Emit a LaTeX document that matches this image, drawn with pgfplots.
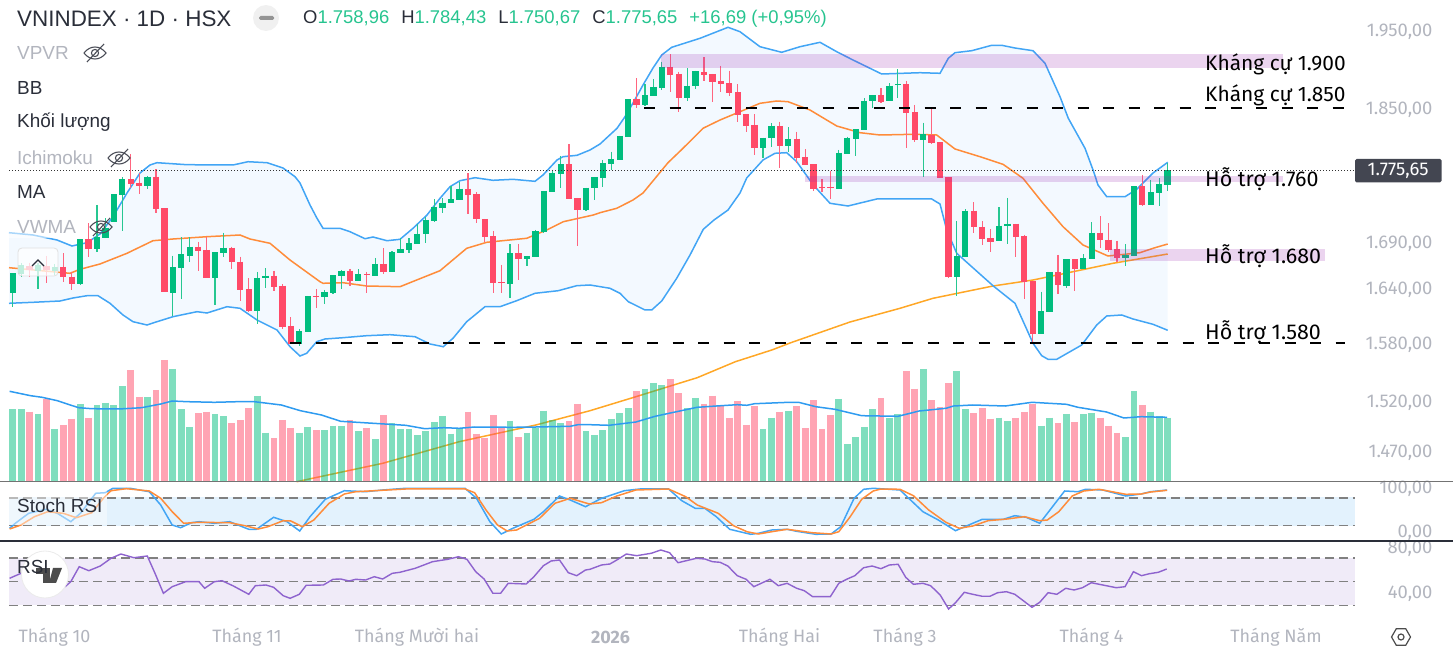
\documentclass[border=0pt]{standalone}
\usepackage{fontspec}
\setmainfont{Liberation Sans}
\newfontfamily\uifont{Fira Sans}
\usepackage{pgfplots}
\usepackage{pgfplotstable}
\usepgfplotslibrary{fillbetween}
\pgfplotsset{compat=1.18}
\definecolor{candgreen}{HTML}{00BD7E}
\definecolor{candred}{HTML}{FF4A68}
\definecolor{bandblue}{HTML}{42A5F5}
\definecolor{bandfill}{HTML}{F3F9FF}
\definecolor{basisor}{HTML}{FF8C3A}
\definecolor{maor}{HTML}{FFA726}
\definecolor{volblue}{HTML}{2E9BF0}
\definecolor{zone}{HTML}{9C27B0}
\definecolor{lightgrey}{HTML}{B2B5BE}
\definecolor{inkdark}{HTML}{2A2E39}
\definecolor{hdrgreen}{HTML}{26C48F}
\definecolor{rsiline}{HTML}{8E63CE}
\definecolor{rsifill}{HTML}{F0EBF8}
\definecolor{stochfill}{HTML}{E3F2FD}
\definecolor{tagfill}{HTML}{434651}
% pane coordinates: values are read as pixel rows of the price scale
% n = session number, top/bot = candle body, hi/lo = wick, vol = volume bar top
\pgfplotstableread{
n top bot hi lo vol
0 273.3 293.3 273.3 307.3 409.3
1 265 274 263.3 276.7 409.3
3 265.3 270.7 262.7 289 414
5 266.7 270.7 264 275 429
8 239.3 284.3 239.3 285.3 404
10 237.3 248.7 205 251.7 405
11 227.7 238.3 218.3 238.3 402.7
12 194.3 221.7 194.3 221.7 405
13 179.3 195 177.3 231 386.3
16 176.7 186 176 188.7 396.7
19 267.3 292.7 255.7 315.7 369
20 254.3 268 237.3 299.3 409.3
21 246.7 255.7 237.3 262.3 427
24 252.3 278.3 252.3 305 414
25 247.7 253.3 232.7 256.7 416.3
29 277.7 311 272 324.3 395.7
30 275.7 278.3 268.3 287.7 432.7
34 331.3 344 329 345.7 432.7
35 296 331.7 296 331.7 427
37 292.3 297 290 304 430.3
38 275.3 293.3 275.3 293.7 425.7
39 270.7 276 270 288.7 425.7
41 274.3 281 269.3 281 431.3
43 264 276 258 276 439.3
45 252.3 271.7 251.3 271.7 423.3
46 249 253 238.3 253.3 429
47 243 250 238.3 253.3 429
48 233.7 243.7 224.3 244 435
49 220 234.3 216.7 242.7 431.3
50 207.3 221 199.3 221.7 422
51 202.7 208 198.3 212.7 416.3
52 199.3 203.3 185.7 203.3 433.7
53 188.7 200 182.3 200 428
59 253.3 284.3 244 298.3 421
61 256 258.7 256 266 432.7
62 231.3 256.7 230 256.7 428
63 191 232 191 232.7 410.7
64 173.3 191.7 170 191.7 420
65 164.3 174.3 156 188.3 423.3
68 187.7 210.3 187.7 210.7 431.3
69 177 188.3 177 200 435
70 163.3 177.7 160 187.3 430.3
71 159.3 164 151.7 170 418.7
72 136 160.3 135.7 160.3 413
73 99.3 137.3 99.3 137.3 408.3
75 95 105.3 84 106 388.7
76 87 96 79 96 383
77 66.7 87.7 61.7 90 385.3
80 85.7 98 68.3 101.3 408.3
81 71.3 86.3 70.7 89 398
89 137.7 148 137.7 158.3 429
90 125.7 138.3 123.3 146.7 417.7
92 138.7 146 127.3 151.7 410.7
98 152.7 189 150 189 399
99 137.7 153.7 136.7 153.7 444
100 129.3 138.7 129.3 156 437.3
101 100.7 130.3 98.3 130.3 427
102 95 101.3 95 108.3 409.3
104 85.7 101.3 83.3 101.3 417.7
105 84 85 69.3 97.7 414
108 134.3 140 122.7 176.7 369
112 256 277.3 221 295.7 371.3
113 210.7 256.7 209.3 256.7 409.3
117 225.7 241.3 207.3 241.3 417.7
118 223.7 226.3 198 244 421
122 311.3 334 291.7 334 425.7
123 272 312 272 312 417.7
125 259.3 285.7 259.3 287.7 414
127 258.3 269.3 254.3 269.3 414
128 232.7 259 222.3 259 413
132 255 258 244.3 265.7 437.3
133 186.3 255.7 186.3 255.7 391
135 192.3 204.7 180 205.3 411.7
136 184 193 178.3 205.7 416.3
137 170.3 185 163.3 190.7 417.7
}\greencandles
\pgfplotstableread{
n top bot hi lo vol
2 266 270 262.7 277.3 411.7
4 266 270 256 283.3 399
6 266.7 277.3 253.3 282.3 424.7
7 276.7 284.3 271.7 290 418.7
9 239.3 248.7 223.3 256.7 417.7
14 179.3 184 154 188.3 370
15 182.7 186 173.3 194 396.7
17 176.7 209 169.3 212.7 390
18 208.3 292.3 208.3 292.3 360
22 246.7 251 241.7 270.7 413
23 250 278.3 236.7 278.3 411.7
26 247.7 262.3 246.7 269.3 423.3
27 261.7 290 256.7 300.7 420
28 289.3 311 278.3 312.3 408.3
31 275.7 286.7 270.7 290.7 438.3
32 285.7 327.3 284.3 329.3 420
33 326 344 317.3 344 428
36 296 297 289 307.7 430.3
40 270.7 281 269 285.7 420
42 274 275 271.7 292.7 428
44 264 271.7 248.3 274 415.3
54 188.7 195 173.3 214 411.7
55 194.3 219.3 192.3 222.7 433.7
56 219 237 219 242 438.3
57 236.3 283 231 292.7 415.3
58 282.3 283.3 265 292.7 428
60 253.3 259 244 280 437.3
66 164.3 198.7 144.3 198.7 421
67 198 210.3 198 246 403.7
74 99.3 105 78.3 108.3 391
78 67 75 54.3 92.3 379.3
79 74 98 71.7 111.7 393.3
82 71.7 74.7 57.3 80.7 403.7
83 74 82 74 101.7 395.7
84 81 84 66 92.3 406
85 83.3 93.3 70.7 96 417.7
86 92.3 115 84.3 122.3 401.3
87 114.3 126 114.3 131.7 424.7
88 125 148 114.3 154.7 406
91 126 145.7 121.7 167.7 411.7
93 138.7 158 131.7 163.3 406
94 157 165 149.3 165.3 428
95 164.3 189 164.3 190.7 400.3
96 187 188 179.3 191.7 429
97 187 188 171 199 415.3
103 95 101.7 88.3 103.3 398
106 84.3 113 81 147.7 371.3
107 112.3 140 105 141.7 388.7
109 134.7 143.3 108.3 144.3 400.3
110 142.3 177.7 142.3 178.3 407
111 177 277.3 177 278.3 383
114 210.7 227.3 202.3 233.3 413
115 227 239.3 221 245 408.3
116 238.3 241.7 229.3 252 418.7
119 223.7 236.7 223.7 256.7 417.7
120 236.3 282 235 299.3 411.7
121 281.3 334 281.3 342.3 403.7
124 272 285.3 255 293.7 423.3
126 259.3 269 259.3 290.7 422
129 232.7 240.3 216.3 248.3 417.7
130 239.7 249.7 223.3 251.7 425.7
131 249 257.7 240.7 262.3 432.7
134 186.3 204.7 174.7 205.7 405
}\redcandles
\pgfplotstableread{
x y
9 232.7
33 235
57 240
72 246
87 242.7
100 234
113 216.7
127 193
140 173
150 165
157 162.7
187 164.7
233 165
248 161.7
267 162.7
283 168
295 176.7
300 183
310 205
317 218.3
323 228.3
340 228.3
350 231.7
365 238.7
373 237
387 240.7
400 239.3
413 228.3
427 215
440 198.3
450 186.7
460 180.7
475 177.7
493 180.3
513 179.3
535 181.3
543 175
557 160
563 156.7
577 155.3
590 150
600 144
617 128.3
625 116.7
633 103
643 85
653 68
661.7 55
671.7 47.3
700 38.3
728 27.3
740 31.7
760 46.7
781.7 52.3
800 46.7
820 42.3
836.7 51.7
853 60
881.7 74
920 72.7
940 73.3
948.3 58.3
955 52.7
971.7 50.7
991.7 45.3
1001.7 45.3
1015 48
1033 50.7
1045 63.3
1060 96.7
1068.3 118.3
1085 148.3
1093.3 170.7
1098 185
1106.7 196.7
1125 196.7
1136.7 189.3
1153 173
1167.7 162.3
}\bbupper
\pgfplotstableread{
x y
9 303.3
33 302.3
60 301
73 298
87 295.7
98 295.7
110 303.3
123 315
133 321.7
147 325
157 321.7
173 316.7
197 311.7
207 313
227 306.7
240 308.3
257 320
277 330
290 346.7
300 356
306.7 353.3
316.7 341.7
325 339
343 337.7
366.7 335.7
390 334.7
415 336.7
430 344
443.3 346.7
453 338.3
466.7 321.7
485 306.7
500 306.7
516.7 300.7
535 293.3
558.3 290.7
576.7 285.7
590 285
610 288.3
620 293.3
628.3 301.7
645 310
651.7 310
661.7 301
676.7 278.3
690 255
703.3 229.3
714 220
728 210
740 193
746.7 178
763 160
775 153.3
786.7 152.7
796.7 161.7
813.3 185
830 203.3
848 206
876.7 199
900 199
931.7 199
940 204
946.7 230
956.7 253.3
993.3 286
1015 303.3
1033 343.3
1041.7 355.7
1048 359.3
1056.7 359.3
1081.7 345
1096.7 325
1106.7 316
1121.7 315
1133 319
1153 324.3
1167.7 330.3
}\bblower
\pgfplotstableread{
x y
9 267.7
70 273.3
80 269.3
100 264
127 253.3
153 240.7
173 239
207 236.7
240 235
250 239
270 243.3
290 260
320 281.7
323 283.3
343 282.7
366.7 286
400 286.7
416.7 280
440 270.7
466.7 248.3
486.7 242.3
526.7 238.3
546.7 230
563.3 221.7
593.3 215
600 212.7
616.7 208.3
633 200
643 193
668 162.7
683 148.3
703 128.3
720 120
740 111.7
760 103.3
776.7 101
788 101.7
810 110
836.7 126
860 132.7
880 135
913 134.3
936.7 135
955 149
980 156.7
1003 164.3
1023 178.3
1043 203.3
1063 226.7
1083 245
1108 256
1140 252.7
1153 248.3
1167.7 244
}\bbbasis
\pgfplotstableread{
x y
296.6 481.7
382.7 463.3
459.2 441.7
535.8 425
590 410.7
635.9 396.7
697.2 377.7
735.4 361.7
771.8 350
790 343
850 322
900 308.3
933 298.3
993 286
1033 280
1073 271.7
1113 263.3
1167.7 254
}\longma
\pgfplotstableread{
x y
9.6 391.3
30.6 395.7
42.1 397.3
57.4 400.7
78.5 407.7
91.8 408.7
118.6 409
141.6 407.7
160.7 404
172.2 401
187.5 401.7
214.3 402.3
237.3 401.7
254.5 401.7
281.3 405
300.4 410.7
321.5 415
340.6 421.3
363.6 422.7
405.7 425.3
424.8 428.7
443.9 427.7
459.2 428.3
474.6 427
512.8 427.3
535.8 427
570.2 426.3
577.9 424.7
590 424.7
609.1 425.3
635.9 422
655.1 416.3
670.4 413
697.2 407.3
716.3 406
737.3 404.7
746.9 405.3
754.6 403.7
789 402.3
798.6 402.3
815.8 406.7
834.9 409.3
861.7 415.7
898.1 416.3
919.1 411
945.9 408.3
953.6 406
972.7 405
1005.2 406
1032 402.3
1066.5 404.3
1077.9 407.3
1106.6 412
1123.9 418
1141.1 416.7
1167.1 417.3
}\volma
\pgfplotstableread{
x y
9.6 528.3
15.3 523.3
28.7 513.3
45.9 509.3
57.4 513.3
70.8 521.7
80.4 513.3
95.7 493.3
105.2 492.7
112.9 488.3
130.1 488.3
149.3 491.7
160.7 505
172.2 525
180.6 527.7
191.4 522.7
199 521.7
214.3 523.3
229.6 521.7
248.8 529.3
256.4 529.3
273.6 517.3
287 521.7
299.7 531
310 516.7
325.3 499.3
344.4 490.7
365.5 491.7
382.7 490
405.7 488.3
465 488.3
476.5 498.3
489.9 521.7
501.3 534
512.8 528.3
533.9 519.3
543.4 511.7
559.5 496
570.2 500
585.5 506.7
601.5 498.3
624.4 490.7
639.8 489
668.5 489
681.8 500.7
695.2 508.3
704.8 508.3
716.3 516.7
729.7 529.3
750.7 534.3
758.4 533.3
771.8 530
787.1 529.3
796.7 531.3
815.8 534.3
831.1 534
840.7 526.7
854.1 498.3
863.6 489.3
873.2 488.3
900 490
922.9 511.7
938.3 520
955.5 530.7
972.7 523.3
982.3 519.3
1003.3 519.3
1014.8 515.7
1026.3 517.3
1039.7 523.3
1064.6 491
1077.9 491.7
1085.6 489.3
1102.8 490
1125.8 496
1141.1 494
1150.7 491.7
1167.1 490
}\stochk
\pgfplotstableread{
x y
9.6 529
21 525
34.4 516.7
47.8 511.7
63.1 513.3
76.5 517.7
91.8 512.7
103.3 498.3
111 490.7
126.3 488.7
149.3 491
160.7 498.3
172.2 511.7
183.7 523.3
199 522.3
229.6 522.7
244.9 525.7
258.3 529
267.9 526.7
283.2 520.7
290.9 521
302.3 526.7
313.8 520
329.1 503.3
344.4 494
355.9 491.7
405.7 489
465 489
474.6 492.7
486 510
497.5 525
507.1 531
516.6 530
539.6 518.3
554.9 503.3
570.2 498.3
589.4 504
601.5 502.7
616.8 496
635.9 490
668.5 489
685.7 496.7
697.2 505
718.2 513.3
733.5 525.7
746.9 531.7
758.4 534
771.8 531.7
787.1 529.3
812 532.7
831.1 534
838.8 531.7
850.2 516.7
861.7 499.3
873.2 491
880.9 489
900 489.3
913.4 495.7
928.7 510
945.9 522.3
959.3 528.3
972.7 526
988 520.7
1007.1 519
1024.4 516.7
1039.7 520.7
1047.3 520
1058.8 511.7
1072.2 496
1083.7 491
1099 489.3
1125.8 494.3
1141.1 494
1150.7 492
1167.1 490.3
}\stochd
\pgfplotstableread{
x y
9.6 578.3
21 573.3
40 578
65 586.7
70.8 581.7
79.2 566.7
88.8 570.7
100.3 566
111 558.3
120.9 554
133.9 557.7
147.3 556
155 573.3
163.4 593.3
172.2 586.7
185.6 581.7
199 581.7
204.7 588.3
214.3 581.7
222 580.7
233.4 586
248.8 594.3
255.3 585.7
266 585
273.6 587.3
283.2 595.7
290.1 598.3
299.3 594.3
306.2 585.3
323.4 585
333 579.3
340.6 579
349 581
355.9 579.3
365.5 580
374.3 576.7
382.7 579
392.3 573.3
399.9 572.3
415.2 568.3
432.5 561.7
447.8 559.3
458.5 556.7
466.9 559.3
475.7 571.7
484.1 579
492.9 593.3
500.6 593.3
508.2 583.3
526.2 584
533.9 576.7
543.4 565.7
551.1 561
559.5 560
568.3 572.7
576.7 575.7
585.5 570
590 569.3
601.5 565
609.9 564
616.8 560
626.4 554
636.7 555.7
651.2 553.3
660.8 550
669.6 552.7
678 562.7
696.4 558.3
704.8 559
712.5 561.7
720.1 562.3
727.8 566
737.3 575.7
746.1 579.3
753.8 586.7
769.9 579.3
778.3 585.7
787.1 583.3
796.7 588.3
804.3 590.7
812.7 596.7
830.3 596.7
838.8 583.3
847.2 579
854.8 575.7
863.6 567.7
872.1 566
880.9 568.7
889.3 565
898.1 564.3
905.7 577.3
913.4 584.3
922.9 583.3
930.6 585.7
940.2 595
948.6 609
955.5 602.7
964.3 592.3
972.7 594.3
982.3 596.3
989.9 596.3
997.6 592.7
1006.4 591.7
1014.8 594.3
1032 607.3
1039.7 602.3
1048.1 592.7
1056.9 594.3
1065.7 588.3
1074.1 590
1082.5 587.7
1091.3 582.7
1116.2 587.7
1125 586.7
1133.4 571.7
1141.5 575.7
1149.5 573.7
1158.3 572.3
1166.7 569
}\rsi
\newcommand\eyeoff[2]{%
  \begin{scope}[shift={(axis cs:#1,#2)},x=1bp,y=1bp,draw=inkdark!85,line width=1.1bp]
    \draw (-11,0) .. controls (-5,8) and (5,8) .. (11,0) .. controls (5,-8) and (-5,-8) .. (-11,0);
    \draw (0,0) circle (3.6);
    \draw (-8,-9) -- (9,9);
  \end{scope}}
\begin{document}
\begin{tikzpicture}
\begin{axis}[
  at={(0,0)},anchor=south west,
  scale only axis,width=1453bp,height=650bp,
  xmin=0,xmax=1453,ymin=0,ymax=650,y dir=reverse,
  clip=false,
  axis line style={draw=none},
  tick style={draw=none},
  ytick={30,108,242,288,343,401,451,487,531,547,592},
  yticklabels={{1.950,00},{1.850,00},{1.690,00},{1.640,00},{1.580,00},{1.520,00},{1.470,00},{100,00},{0,00},{80,00},{40,00}},
  yticklabel pos=right,
  yticklabel style={anchor=east,xshift=-17bp,yshift=-2bp,text=lightgrey,font=\uifont\fontsize{18.5}{18}\selectfont},
  xtick={54.5,247,417,610.5,779.5,905,1091.5,1276},
  xticklabels={Tháng 10,Tháng 11,Tháng Mười hai,{\bfseries 2026},Tháng Hai,Tháng 3,Tháng 4,Tháng Năm},
  xticklabel style={anchor=center,yshift=13bp,text=lightgrey,font=\uifont\fontsize{18}{18}\selectfont},
  no markers,
]
% Bollinger band fill
\addplot[name path=up,draw=none,forget plot] table {\bbupper};
\addplot[name path=lo,draw=none,forget plot] table {\bblower};
\addplot[bandfill,forget plot] fill between[of=up and lo];
% long moving average (under the volume bars)
\addplot[maor,line width=1.5bp] table {\longma};
% volume bars
\addplot[draw=none,forget plot,error bars/.cd,y dir=plus,y explicit,error mark=none,
  error bar style={line width=6.8bp,draw=candgreen,opacity=.5}]
  table[x expr=12.7+8.43*\thisrow{n},y=vol,y error plus expr=481.5-\thisrow{vol}] {\greencandles};
\addplot[draw=none,forget plot,error bars/.cd,y dir=plus,y explicit,error mark=none,
  error bar style={line width=6.8bp,draw=candred,opacity=.5}]
  table[x expr=12.7+8.43*\thisrow{n},y=vol,y error plus expr=481.5-\thisrow{vol}] {\redcandles};
\addplot[volblue,line width=1.5bp] table {\volma};
% Bollinger lines
\addplot[bandblue,line width=1.5bp] table {\bbupper};
\addplot[bandblue,line width=1.5bp] table {\bblower};
\addplot[basisor,line width=1.5bp] table {\bbbasis};
% wicks
\addplot[draw=none,forget plot,error bars/.cd,y dir=plus,y explicit,error mark=none,
  error bar style={line width=1.2bp,draw=candgreen!85!white}]
  table[x expr=12.7+8.43*\thisrow{n},y=hi,y error plus expr=\thisrow{lo}-\thisrow{hi}] {\greencandles};
\addplot[draw=none,forget plot,error bars/.cd,y dir=plus,y explicit,error mark=none,
  error bar style={line width=1.2bp,draw=candred!85!white}]
  table[x expr=12.7+8.43*\thisrow{n},y=hi,y error plus expr=\thisrow{lo}-\thisrow{hi}] {\redcandles};
% bodies
\addplot[draw=none,forget plot,error bars/.cd,y dir=plus,y explicit,error mark=none,
  error bar style={line width=6.3bp,draw=candgreen}]
  table[x expr=12.7+8.43*\thisrow{n},y=top,y error plus expr=\thisrow{bot}-\thisrow{top}] {\greencandles};
\addplot[draw=none,forget plot,error bars/.cd,y dir=plus,y explicit,error mark=none,
  error bar style={line width=6.3bp,draw=candred}]
  table[x expr=12.7+8.43*\thisrow{n},y=top,y error plus expr=\thisrow{bot}-\thisrow{top}] {\redcandles};
% zones
\addplot[zone,opacity=.2,line width=13.7bp] coordinates {(661,60.85)(1283,60.85)};
\addplot[zone,opacity=.2,line width=5.8bp] coordinates {(805,178.8)(1283,178.8)};
\addplot[zone,opacity=.2,line width=12bp] coordinates {(1110,255)(1325,255)};
% dashed levels
\addplot[black,line width=2bp,dash pattern=on 11bp off 14.5bp] coordinates {(644,108.3)(1345,108.3)};
\addplot[black,line width=2bp,dash pattern=on 11bp off 14.5bp] coordinates {(290,343.3)(1345,343.3)};
% last price line
\addplot[black!80,line width=.8bp,dash pattern=on 1bp off 2bp] coordinates {(9,170.3)(1355,170.3)};
% separators
\addplot[black!55,line width=1.2bp] coordinates {(0,481.8)(1453,481.8)};
\addplot[inkdark,line width=2bp] coordinates {(0,541)(1453,541)};
% Stoch RSI pane
\addplot[stochfill,line width=28.4bp] coordinates {(9,511.5)(1355,511.5)};
\addplot[black!50,line width=1.1bp,dash pattern=on 9bp off 5bp] coordinates {(9,498)(1355,498)};
\addplot[black!50,line width=1.1bp,dash pattern=on 9bp off 5bp] coordinates {(9,525.7)(1355,525.7)};
\addplot[bandblue,line width=1.5bp] table {\stochk};
\addplot[basisor,line width=1.5bp] table {\stochd};
% RSI pane
\addplot[rsifill,line width=47bp] coordinates {(9,581.5)(1355,581.5)};
\addplot[black!50,line width=1.1bp,dash pattern=on 9bp off 5bp] coordinates {(9,558)(1355,558)};
\addplot[black!50,line width=1.1bp,dash pattern=on 9bp off 5bp] coordinates {(9,581.3)(1355,581.3)};
\addplot[black!50,line width=1.1bp,dash pattern=on 9bp off 5bp] coordinates {(9,605.7)(1355,605.7)};
\addplot[rsiline,line width=1.4bp] table {\rsi};
% overlays
\fill[white,opacity=.55] (axis cs:9,215) rectangle (axis cs:84,238);
\fill[white,opacity=.45] (axis cs:9,490) rectangle (axis cs:107,525);
\filldraw[fill=white,fill opacity=.75,draw=black!12,line width=.8bp,rounded corners=4bp] (axis cs:18,248) rectangle (axis cs:58,276);
\draw[inkdark,line width=1.2bp] (axis cs:32,266) -- (axis cs:38,260) -- (axis cs:44,266);
\filldraw[fill=white,draw=black!8,line width=.8bp] (axis cs:45,574.5) circle (23.5bp);
\fill[black!70] (axis cs:36,568) rectangle (axis cs:50,574);
\fill[black!70] (axis cs:43,574) rectangle (axis cs:50,583);
\fill[black!70] (axis cs:53,568) -- (axis cs:62,568) -- (axis cs:56,583) -- (axis cs:49,583) -- cycle;
\fill[tagfill,rounded corners=1.5bp] (axis cs:1355,159) rectangle (axis cs:1441.5,182.3);
\node[text=white,font=\uifont\fontsize{18.5}{18}\selectfont] at (axis cs:1398,170.5) {1.775,65};
% legend text
\node[anchor=west,inner sep=0,text=inkdark,font=\fontsize{22.5}{24}\selectfont] at (axis cs:17,19) {VNINDEX · 1D · HSX};
\fill[black!6] (axis cs:266,18) circle (13bp);
\fill[black!42,rounded corners=1.5bp] (axis cs:259,16) rectangle (axis cs:274,20);
\node[anchor=west,inner sep=0,text=inkdark,font=\fontsize{18.5}{20}\selectfont] at (axis cs:303,19) {O\textcolor{hdrgreen}{1.758,96}\hspace{12bp}H\textcolor{hdrgreen}{1.784,43}\hspace{12bp}L\textcolor{hdrgreen}{1.750,67}\hspace{12bp}C\textcolor{hdrgreen}{1.775,65}\hspace{12bp}\textcolor{hdrgreen}{+16,69 (+0,95\%)}};
\node[anchor=west,inner sep=0,text=lightgrey,font=\fontsize{19}{20}\selectfont] at (axis cs:17,53) {VPVR};
\node[anchor=west,inner sep=0,text=inkdark,font=\fontsize{19}{20}\selectfont] at (axis cs:17,88) {BB};
\node[anchor=west,inner sep=0,text=inkdark,font=\fontsize{19}{20}\selectfont] at (axis cs:17,122) {Khối lượng};
\node[anchor=west,inner sep=0,text=lightgrey,font=\fontsize{19}{20}\selectfont] at (axis cs:17,158) {Ichimoku};
\node[anchor=west,inner sep=0,text=inkdark,font=\fontsize{19}{20}\selectfont] at (axis cs:17,192) {MA};
\node[anchor=west,inner sep=0,text=lightgrey,font=\fontsize{19}{20}\selectfont] at (axis cs:17,227) {VWMA};
\eyeoff{95}{53}
\eyeoff{119}{158}
\eyeoff{101}{227}
\node[anchor=west,inner sep=0,text=inkdark,font=\fontsize{19}{20}\selectfont] at (axis cs:17,506) {Stoch RSI};
\node[anchor=west,inner sep=0,text=inkdark,font=\fontsize{19}{20}\selectfont] at (axis cs:17,567) {RSI};
% level annotations
\node[anchor=west,inner sep=0,text=black,font=\uifont\fontsize{21}{24}\selectfont] at (axis cs:1205,64.5) {Kháng cự 1.900};
\node[anchor=west,inner sep=0,text=black,font=\uifont\fontsize{21}{24}\selectfont] at (axis cs:1205,95) {Kháng cự 1.850};
\node[anchor=west,inner sep=0,text=black,font=\uifont\fontsize{21.5}{24}\selectfont] at (axis cs:1205,179) {Hỗ trợ 1.760};
\node[anchor=west,inner sep=0,text=black,font=\uifont\fontsize{21.5}{24}\selectfont] at (axis cs:1205,256) {Hỗ trợ 1.680};
\node[anchor=west,inner sep=0,text=black,font=\uifont\fontsize{21.5}{24}\selectfont] at (axis cs:1205,332) {Hỗ trợ 1.580};
% scale settings icon
\draw[black!70,line width=1.2bp,shift={(axis cs:1401,637)}] (0:9.5bp) -- (60:9.5bp) -- (120:9.5bp) -- (180:9.5bp) -- (240:9.5bp) -- (300:9.5bp) -- cycle (0,0) circle (3bp);
\end{axis}
\pgfresetboundingbox
\useasboundingbox (0,0) rectangle (1453bp,650bp);
\end{tikzpicture}
\end{document}
